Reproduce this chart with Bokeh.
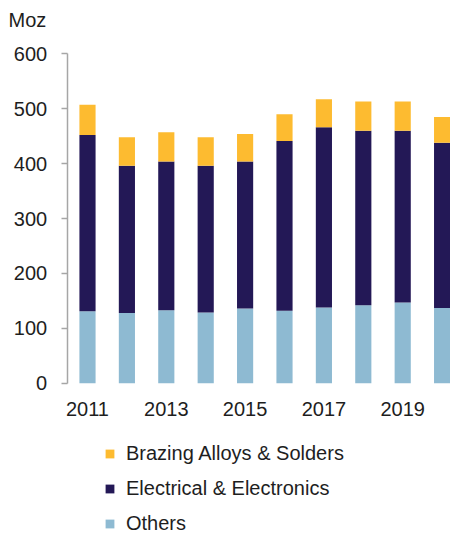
from bokeh.plotting import figure
from bokeh.models import Range1d, FixedTicker, Legend, LegendItem, Label
from bokeh.embed import file_html
from bokeh.resources import INLINE

years = [2011, 2012, 2013, 2014, 2015, 2016, 2017, 2018, 2019, 2020]
others = [131, 128, 133, 129, 136, 132, 138, 142, 147, 137]
electrical = [321, 268, 271, 267, 268, 309, 328, 318, 313, 301]
brazing = [55, 52, 53, 52, 50, 49, 51, 53, 53, 47]
series = ["Others", "Electrical & Electronics", "Brazing Alloys & Solders"]
colors = ["#8EBAD2", "#231856", "#FDBB30"]
y_ticks = [0, 100, 200, 300, 400, 500, 600]
x_ticks = [2011, 2013, 2015, 2017, 2019]
unit_label = "Moz"

FONT = "Liberation Sans"
TXT = "#1e1e1e"

# the whole canvas is the plot frame; axes are pinned inside it
p = figure(width=450, height=535, output_backend="svg", toolbar_location=None,
           x_range=Range1d(2008.792, 2020.213), y_range=Range1d(-277.4, 697.1),
           min_border_left=0, min_border_right=0, min_border_top=0,
           min_border_bottom=0)
p.outline_line_color = None
p.grid.grid_line_color = None
p.background_fill_color = "white"
p.border_fill_color = "white"

data = dict(x=years, Others=others)
data["Electrical & Electronics"] = electrical
data["Brazing Alloys & Solders"] = brazing
rs = p.vbar_stack(series, x="x", width=0.41, color=colors, line_color=None, source=data)

ya = p.yaxis[0]
ya.fixed_location = 2010.485
ya.bounds = (0, 600)
ya.ticker = FixedTicker(ticks=y_ticks)
ya.axis_line_color = "#a6a6a6"
ya.axis_line_width = 1.5
ya.major_tick_line_color = "#a6a6a6"
ya.major_tick_line_width = 1.5
ya.major_tick_out = 6
ya.major_tick_in = 0
ya.minor_tick_line_color = None
ya.major_label_standoff = 14
ya.major_label_text_font = FONT
ya.major_label_text_font_size = "20px"
ya.major_label_text_color = TXT

xa = p.xaxis[0]
xa.fixed_location = 0
xa.ticker = FixedTicker(ticks=x_ticks)
xa.axis_line_color = None
xa.major_tick_line_color = None
xa.minor_tick_line_color = None
xa.major_tick_out = 0
xa.major_tick_in = 0
xa.major_label_standoff = 19
xa.major_label_text_font = FONT
xa.major_label_text_font_size = "20px"
xa.major_label_text_color = TXT

p.add_layout(Label(x=8, y=516, x_units="screen", y_units="screen", text=unit_label,
                   text_font=FONT, text_font_size="20px", text_color=TXT,
                   text_align="left", text_baseline="middle"))

items = [LegendItem(label=series[i], renderers=[rs[i]]) for i in [2, 1, 0]]
legend = Legend(items=items, orientation="vertical", location=(104, 0),
                margin=0, padding=0, spacing=12,
                glyph_width=11, glyph_height=11, label_height=20,
                label_standoff=11, label_text_font=FONT,
                label_text_font_size="20px", label_text_color=TXT,
                border_line_color=None, background_fill_alpha=0)
p.add_layout(legend)

open("out.html", "w").write(file_html(p, INLINE))
